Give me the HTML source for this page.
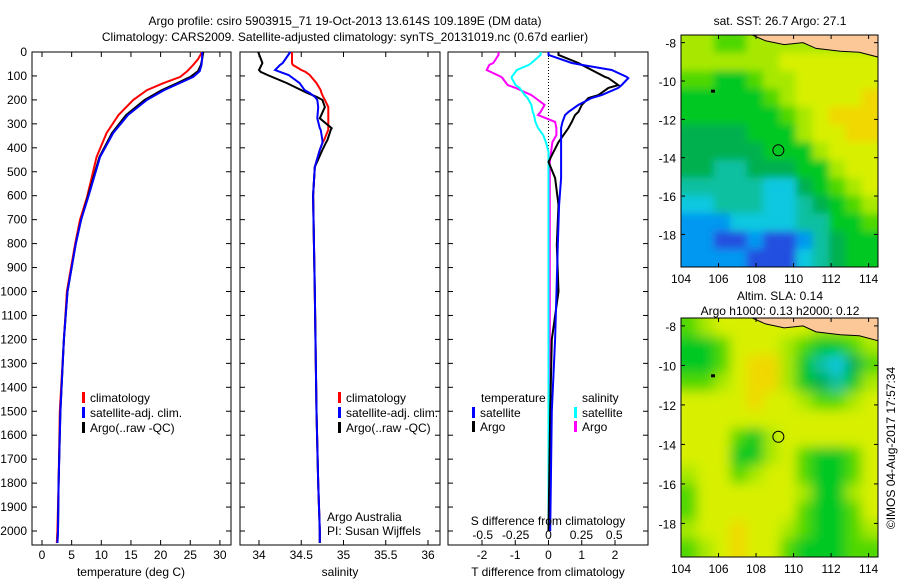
<!DOCTYPE html>
<html><head><meta charset="utf-8"><style>
html,body{margin:0;padding:0;background:#fff;}
svg{display:block;font-family:"Liberation Sans",sans-serif;}
text{font-size:12px;fill:#000;}
</style></head><body>
<svg id="chart" width="900" height="580" xmlns="http://www.w3.org/2000/svg">
<defs>
<filter id="blur2" x="0" y="0" width="1" height="1"><feGaussianBlur stdDeviation="6"/></filter>
<filter id="blur1" x="0" y="0" width="1" height="1"><feGaussianBlur stdDeviation="4"/></filter>
<clipPath id="clipM1"><rect x="681" y="35" width="197" height="232"/></clipPath>
<clipPath id="clipM2"><rect x="681" y="318" width="197" height="239"/></clipPath>
</defs>
<text x="345" y="25" text-anchor="middle">Argo profile: csiro 5903915_71 19-Oct-2013 13.614S 109.189E (DM data)</text>
<text x="345" y="41" text-anchor="middle">Climatology: CARS2009. Satellite-adjusted climatology: synTS_20131019.nc (0.67d earlier)</text>
<g id="g"></g>
</svg>
<script>
// ---- profile data ----
const tDepth = [0,30,54,80,104,130,159,200,263,338,438,605,700,800,1000,1200,1500,1800,2000,2050];
const tClim  = [27,26.3,25.5,24.5,23.3,20.5,17.7,15.4,12.9,10.9,9.2,7.6,6.4,5.6,4.2,3.7,3.0,2.8,2.6,2.5];
const tSat   = [27,27,26.9,26.6,25.5,23.2,20.6,17.7,14.5,12.0,9.8,7.8,6.6,5.7,4.3,3.7,3.1,2.8,2.7,2.6];
const tArgo  = [27.2,27,26.8,26.3,25,22.8,20.2,17.3,14.2,11.8,9.7,7.7,6.6,5.7,4.3,3.7,3.1,2.8,2.7,2.6];
const sDepth = [0,46,54,75,83,96,130,159,171,187,200,230,277,318,325,368,380,409,480,600,1000,1500,1800,2000,2050];
const sClim  = [34.39,34.39,34.40,34.5,34.55,34.6,34.68,34.73,34.74,34.76,34.78,34.82,34.82,34.82,34.82,34.77,34.75,34.72,34.66,34.64,34.66,34.68,34.70,34.72,34.72];
const sSat   = [34.37,34.28,34.25,34.19,34.25,34.35,34.48,34.54,34.6,34.66,34.69,34.70,34.69,34.72,34.73,34.75,34.75,34.72,34.66,34.64,34.66,34.68,34.70,34.72,34.72];
const sArgo  = [33.99,34.04,34.03,34.0,34.02,34.1,34.33,34.5,34.57,34.68,34.75,34.78,34.72,34.86,34.85,34.81,34.79,34.75,34.66,34.64,34.66,34.68,34.70,34.72,34.72];
const dDepth = [0,12,46,54,75,104,109,138,150,180,192,221,250,263,292,317,347,376,417,459,526,639,806,1000,1200,1500,2000];
const dTSat  = [0,0,0.7,1.0,1.9,2.35,2.4,2.2,2.1,1.6,1.3,0.9,0.6,0.5,0.42,0.38,0.38,0.38,0.38,0.38,0.38,0.32,0.28,0.24,0.2,0.1,0.05];
const dTArgo = [0.3,0.3,0.9,1.0,1.3,1.7,1.8,2.1,1.8,1.5,1.2,1.0,0.9,0.8,0.7,0.6,0.45,0.3,0.15,0.0,0.2,0.3,0.25,0.3,0.1,0.05,0.0];
const dSSat  = [-0.06,-0.06,-0.13,-0.15,-0.24,-0.28,-0.28,-0.25,-0.22,-0.18,-0.16,-0.13,-0.12,-0.11,-0.1,-0.08,-0.04,-0.02,0,0,0,0,0,0,0,0,0];
const dSArgo = [-0.38,-0.38,-0.42,-0.45,-0.47,-0.36,-0.35,-0.31,-0.25,-0.13,-0.1,-0.03,-0.06,-0.08,0.05,0.06,0.06,0.03,0.02,0.01,0.01,0.01,0.01,0.01,0.01,0.01,0.01];
const depthTicks = [0,100,200,300,400,500,600,700,800,900,1000,1100,1200,1300,1400,1500,1600,1700,1800,1900,2000];
const tTicks = [0,5,10,15,20,25,30];
const sTicks = [34,34.5,35,35.5,36];
const sLabels = ["34","34.5","35","35.5","36"];
const dTTicks = [-2,-1,0,1,2];
const dSTicks = [-0.5,-0.25,0,0.25,0.5];
const dSLabels = ["-0.5","-0.25","0","0.25","0.5"];
// ---- map data (colour class per cell) ----
const sstGrid = [
[7,7,6,6,7,7,7,7,7,7,7,7],
[7,7,7,7,7,7,8,8,8,8,8,8],
[6,6,5,5,6,7,7,8,8,8,8,8],
[5,5,5,5,5,6,7,8,8,8,8,9],
[5,5,5,5,5,5,6,7,8,9,9,9],
[4,4,4,4,5,5,5,7,8,8,9,9],
[4,4,4,4,4,5,5,5,7,8,8,8],
[4,4,3,3,4,4,4,5,5,7,8,8],
[3,3,3,3,3,2,2,4,5,6,7,8],
[2,2,3,3,3,2,2,3,4,5,6,7],
[1,1,1,2,2,2,2,3,3,5,5,6],
[1,1,0,0,1,0,0,1,3,4,5,5],
[1,1,1,1,0,0,0,2,3,4,5,5]];
const slaGrid = [
[6,7,8,8,8,8,8,8,7,7,7,8],
[5,5,6,8,8,8,7,6,5,5,6,7],
[5,5,6,8,9,9,7,5,3,2,4,6],
[6,6,7,8,9,9,7,5,4,3,5,7],
[8,8,8,8,9,8,8,7,6,6,7,8],
[8,8,8,8,8,8,8,8,8,8,8,8],
[8,8,8,6,5,7,8,8,8,8,8,8],
[8,8,8,5,5,7,8,6,5,5,6,8],
[7,8,8,6,7,8,8,6,5,5,6,8],
[6,8,8,8,8,8,8,7,5,5,7,8],
[6,8,8,8,8,8,8,6,5,5,6,8],
[7,8,8,9,8,8,7,6,5,5,6,7],
[6,7,8,9,8,8,6,5,5,5,6,6]];
const palette = ["#2050e0","#0098f0","#10c8e0","#10c0a0","#00b050","#00c820","#50d800","#a8e800","#d8f000","#f0d800","#f8c000"];
const lonTicks = [104,106,108,110,112,114];
const latTicks = [-8,-10,-12,-14,-16,-18];
const argoLon = 109.189, argoLat = -13.614;

const NS="http://www.w3.org/2000/svg";
const G=document.getElementById('g');
function mk(tag,attrs,parent){const e=document.createElementNS(NS,tag);for(const k in attrs)e.setAttribute(k,attrs[k]);(parent||G).appendChild(e);return e;}
function txt(x,y,s,anchor,parent){const e=mk('text',{x:x,y:y,'text-anchor':anchor||'start'},parent);e.textContent=s;return e;}

const TOP=52,BOT=545;
const yD=d=>TOP+d*0.2395;
const xT=t=>42+t*5.93;
const xS=s=>259+(s-34)*84.5;
const xDT=t=>548.5+t*33.25;
const xDS=s=>548.5+s*131.5;

function panel(x0,x1,name){
  const r=mk('rect',{x:x0,y:TOP,width:x1-x0,height:BOT-TOP,fill:'none',stroke:'#000','stroke-width':1});
  
  depthTicks.forEach(d=>{const y=yD(d);
    mk('line',{x1:x0,x2:x0+5,y1:y,y2:y,stroke:'#000'});
    mk('line',{x1:x1-5,x2:x1,y1:y,y2:y,stroke:'#000'});});
}
function line(depths,vals,xf,color,w,name){
  const pts=depths.map((d,i)=>xf(vals[i]).toFixed(1)+','+yD(d).toFixed(1)).join(' ');
  const p=mk('polyline',{points:pts,fill:'none',stroke:color,'stroke-width':w});
  
}
function legend(x,y,color,label,name){
  const g=mk('g',{});
  
  mk('rect',{x:x,y:y-10,width:3,height:11,fill:color},g);
  txt(x+8,y,label,'start',g);
}

// panel 1
panel(32,231,'temperature-panel');
depthTicks.forEach(d=>{const t=txt(27,yD(d)+4,String(d),'end');});
tTicks.forEach(v=>{const x=xT(v);mk('line',{x1:x,x2:x,y1:BOT,y2:BOT-5,stroke:'#000'});mk('line',{x1:x,x2:x,y1:TOP,y2:TOP+5,stroke:'#000'});
  const t=txt(x,BOT+14,String(v),'middle');});
line(tDepth,tClim,xT,'#f00',2,'temperature-climatology-line');
line(tDepth,tArgo,xT,'#000',2,'temperature-argo-line');
line(tDepth,tSat,xT,'#00f',2,'temperature-satellite-line');
const t1=txt(131,576,'temperature (deg C)','middle');
legend(82,402,'#f00','climatology','legend-climatology');
legend(82,417,'#00f','satellite-adj. clim.','legend-satellite');
legend(82,432,'#000','Argo(..raw -QC)','legend-argo');

// panel 2
panel(240,440,'salinity-panel');
sTicks.forEach((v,i)=>{const x=xS(v);mk('line',{x1:x,x2:x,y1:BOT,y2:BOT-5,stroke:'#000'});mk('line',{x1:x,x2:x,y1:TOP,y2:TOP+5,stroke:'#000'});
  const t=txt(x,BOT+14,sLabels[i],'middle');});
line(sDepth,sClim,xS,'#f00',2,'salinity-climatology-line');
line(sDepth,sArgo,xS,'#000',2,'salinity-argo-line');
line(sDepth,sSat,xS,'#00f',2,'salinity-satellite-line');
const t2=txt(340,576,'salinity','middle');
legend(338,402,'#f00','climatology','legend-climatology-2');
legend(338,417,'#00f','satellite-adj. clim.','legend-satellite-2');
legend(338,432,'#000','Argo(..raw -QC)','legend-argo-2');
const a1=txt(327,521,'Argo Australia');
const a2=txt(327,535,'PI: Susan Wijffels');

// panel 3
panel(448,648,'difference-panel');
mk('line',{x1:xDT(0),x2:xDT(0),y1:TOP,y2:yD(470),stroke:'#000','stroke-dasharray':'1,2'});
dTTicks.forEach(v=>{const x=xDT(v);mk('line',{x1:x,x2:x,y1:BOT,y2:BOT-5,stroke:'#000'});mk('line',{x1:x,x2:x,y1:TOP,y2:TOP+5,stroke:'#000'});
  const t=txt(x,BOT+14,String(v),'middle');});
line(dDepth,dSArgo,xDS,'#f0f',2,'salinity-argo-diff-line');
line(dDepth,dSSat,xDS,'#0ff',2,'salinity-satellite-diff-line');
line(dDepth,dTArgo,xDT,'#000',2,'temperature-argo-diff-line');
line(dDepth,dTSat,xDT,'#00f',2,'temperature-satellite-diff-line');
const t3=txt(548,525,'S difference from climatology','middle');
dSTicks.forEach((v,i)=>{const t=txt(xDS(v),539,dSLabels[i],'middle');});
const t4=txt(548,576,'T difference from climatology','middle');
const lt=txt(481,402,'temperature');
const ls=txt(582,402,'salinity');
legend(472,417,'#00f','satellite','legend-temp-satellite');
legend(472,431,'#000','Argo','legend-temp-argo');
legend(574,417,'#0ff','satellite','legend-sal-satellite');
legend(574,431,'#f0f','Argo','legend-sal-argo');

// maps
function map(grid,y0,h,filt,name,clip){
  const x0=681,w=197,lon0=104,lon1=114.5,lat0=-7.6,lat1=-19.7;
  const lx=l=>x0+(l-lon0)/(lon1-lon0)*w;
  const ly=l=>y0+(l-lat0)/(lat1-lat0)*h;
  const cg=mk('g',{'clip-path':'url(#'+clip+')'});
  
  const g=mk('g',{filter:'url(#'+filt+')'},cg);
  const rows=grid.length,cols=grid[0].length,cw=w/cols,ch=h/rows;
  mk('rect',{x:x0,y:y0,width:w,height:h,fill:palette[grid[6][6]]},g);
  grid.forEach((row,r)=>row.forEach((v,c)=>{
    const ex=(c==0?10:0), ey=(r==0?10:0);
    const cell=mk('rect',{x:x0+c*cw-ex,y:y0+r*ch-ey,width:cw+0.6+ex+(c==cols-1?10:0),height:ch+0.6+ey+(r==rows-1?10:0),fill:palette[v]},g);
    
    
  }));
  const land=[[107.8,-7.6],[108.5,-7.9],[109.5,-8.1],[110.5,-8.0],[111.2,-8.3],[112.5,-8.45],[113.5,-8.5],[114.5,-8.75],[114.5,-7.6]];
  mk('polygon',{points:land.map(p=>lx(p[0])+','+ly(p[1])).join(' '),fill:'#fcc898',stroke:'#000','stroke-width':1},cg);
  mk('rect',{x:lx(105.6),y:ly(-10.45),width:4,height:3,fill:'#000'},cg);
  mk('rect',{x:x0,y:y0,width:w,height:h,fill:'none',stroke:'#000'});
  const c=mk('circle',{cx:lx(argoLon),cy:ly(argoLat),r:5.5,fill:'none',stroke:'#000','stroke-width':1});
  
  lonTicks.forEach(v=>{const x=lx(v);mk('line',{x1:x,x2:x,y1:y0+h,y2:y0+h-4,stroke:'#000'});mk('line',{x1:x,x2:x,y1:y0,y2:y0+4,stroke:'#000'});
    const t=txt(x,y0+h+16,String(v),'middle');});
  latTicks.forEach(v=>{const y=ly(v);mk('line',{x1:x0,x2:x0+4,y1:y,y2:y,stroke:'#000'});mk('line',{x1:x0+w-4,x2:x0+w,y1:y,y2:y,stroke:'#000'});
    const t=txt(x0-5,y+5,String(v),'end');});
}
map(sstGrid,35,232,'blur1','sst-map','clipM1');
map(slaGrid,318,239,'blur2','sla-map','clipM2');
const m1=txt(780,25,'sat. SST: 26.7 Argo: 27.1','middle');
const m2=txt(780,300,'Altim. SLA: 0.14','middle');
const m3=txt(780,315,'Argo h1000: 0.13 h2000: 0.12','middle');
const cr=txt(0,0,'©IMOS 04-Aug-2017 17:57:34','middle');cr.setAttribute('transform','translate(895,448) rotate(-90)');


</script>
</body></html>
